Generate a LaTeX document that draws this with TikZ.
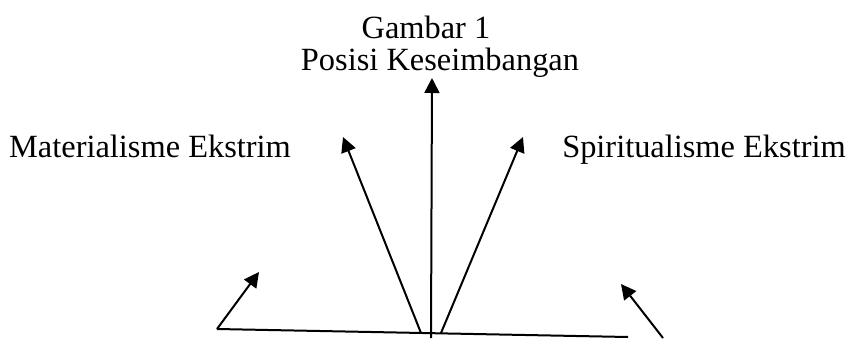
\documentclass[tikz,border=0pt]{standalone}
\usepackage{fontspec}
\setmainfont{Liberation Serif}
\usetikzlibrary{arrows.meta}

\tikzset{
  panah/.style={line width=1pt,-{Triangle[length=7.5pt,width=7.5pt]}},
  garis/.style={line width=1pt},
  label/.style={font=\fontsize{16.2}{19}\selectfont,anchor=base,inner sep=0pt}
}

\begin{document}
\begin{tikzpicture}[x=0.5pt,y=-0.5pt]
    \useasboundingbox (0,0) rectangle (847,338);
    % judul
    \node[label] (judul) at (426,38) {Gambar 1};
    \node[label] (posisi) at (440,70) {Posisi Keseimbangan};
    \node[label] (materi) at (150,157) {Materialisme Ekstrim};
    \node[label] (spirit) at (704,157) {Spiritualisme Ekstrim};
    % titik
    \coordinate (kiri) at (217,329); \coordinate (kanan) at (628,337);
    \coordinate (pusat) at (431,338); \coordinate (atas) at (432,78);
    \coordinate (ki0) at (421,333); \coordinate (ki1) at (343,137);
    \coordinate (ka0) at (441,333); \coordinate (ka1) at (523,137);
    \coordinate (kb0) at (259,272);
    \coordinate (rb0) at (663,338); \coordinate (rb1) at (621,284);
    % garis dan panah
    \draw[garis] (kiri) -- (kanan);
    \draw[panah] (pusat) -- (atas);
    \draw[panah] (ki0) -- (ki1);
    \draw[panah] (ka0) -- (ka1);
    \draw[panah] (kiri) -- (kb0);
    \draw[panah] (rb0) -- (rb1);
  \end{tikzpicture}
\end{document}
